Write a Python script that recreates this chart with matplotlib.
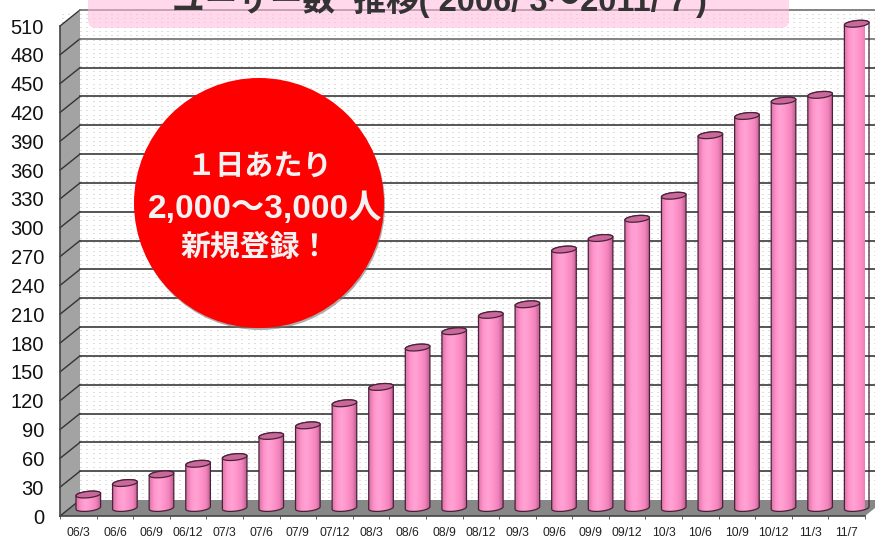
import numpy as np
import matplotlib
matplotlib.use('Agg')
import matplotlib.pyplot as plt
from matplotlib.patches import Polygon, Circle, FancyBboxPatch, PathPatch
from matplotlib.path import Path

plt.rcParams['font.family'] = ['Liberation Sans', 'Noto Sans CJK JP', 'DejaVu Sans']

months = ['06/3', '06/6', '06/9', '06/12', '07/3', '07/6', '07/9', '07/12',
          '08/3', '08/6', '08/9', '08/12', '09/3', '09/6', '09/9', '09/12',
          '10/3', '10/6', '10/9', '10/12', '11/3', '11/7']
users = [14, 26, 35, 46, 53, 75, 86, 109, 126, 167, 184,
         201, 212, 269, 281, 301, 325, 388, 408, 424, 430, 504]
y_ticks = list(range(0, 511, 30))
title_text = 'ユーザー数  推移( 2006/ 3〜2011/ 7 )'
badge_lines = ['１日あたり', '2,000〜3,000人', '新規登録！']

W, H = 875, 539
fig = plt.figure(figsize=(W / 100, H / 100), dpi=100, facecolor='white')

# Pixel axes behind the chart, for the walls and the dot texture
under = fig.add_axes([0, 0, 1, 1], zorder=0)
under.set_xlim(0, W)
under.set_ylim(H, 0)
under.axis('off')
under.add_patch(Polygon([(60, 26), (80, 11), (80, 500), (60, 516)], fc='#a3a3a3', ec='none'))

dots = np.zeros((H, W, 4))
dots[..., :3] = 0.6
for row in np.arange(14, 500, 4.4):
    for col in np.arange(62, W, 6.2):
        dots[int(row), int(col):int(col) + 2, 3] = 0.32
under.imshow(dots, extent=(0, W, H, 0), aspect='auto', interpolation='bilinear')
under.set_xlim(0, W)
under.set_ylim(H, 0)

# Main axes is the front plane of the 3D box
ax = fig.add_axes([60 / W, (H - 516) / H, 805 / W, 490 / H], zorder=1)
ax.patch.set_visible(False)
ax.set_xlim(-0.5, 21.5)
ax.set_ylim(0, 510)
px_x = 22 / 805
px_y = 510 / 490
depth_x = 20 * px_x
depth_y = 16 * px_y

# Floor
ax.add_patch(Polygon([(-0.5, 0), (21.5, 0), (21.5 + depth_x, depth_y), (-0.5 + depth_x, depth_y)],
                     fc='#878787', ec='none', clip_on=False, zorder=1))

# Grid lines on the back wall and the side wall
for v in y_ticks:
    ax.plot([-0.5, -0.5 + depth_x], [v, v + depth_y], color='#333333', lw=1, clip_on=False, zorder=2)
    if v > 0:
        grid_color = '#6e6e6e' if v >= 480 else '#3a3a3a'
        ax.plot([-0.5 + depth_x, 21.5 + depth_x], [v + depth_y, v + depth_y],
                color=grid_color, lw=1.2, clip_on=False, zorder=2)


def ellipse_pts(cx, cy, t):
    # slightly tilted ellipse, sizes in pixels
    x = cx + 12.3 * px_x * np.cos(t)
    y = cy + (3.2 * np.sin(t) + 1.2 * np.cos(t)) * px_y
    return np.column_stack([x, y])


shade = np.array([[0.85, 0.45, 0.66], [1.0, 0.58, 0.79], [1.0, 0.64, 0.83],
                  [1.0, 0.58, 0.79], [0.95, 0.52, 0.74], [0.74, 0.36, 0.56]])
gradient = np.array([np.interp(np.linspace(0, 1, 60), np.linspace(0, 1, 6), shade[:, c])
                     for c in range(3)]).T[np.newaxis, ...]

# Cylinders
for i, v in enumerate(users):
    cx = i + depth_x / 2
    cy_base = depth_y / 2
    cy_top = v + depth_y / 2
    bottom = ellipse_pts(cx, cy_base, np.linspace(np.pi, 2 * np.pi, 30))
    top = ellipse_pts(cx, cy_top, np.linspace(0, np.pi, 30))
    body = np.vstack([bottom, top, bottom[:1]])
    outline = PathPatch(Path(body), fc='none', ec='#4a2238', lw=0.9, clip_on=False, zorder=5)
    ax.add_patch(outline)
    img = ax.imshow(gradient, extent=(cx - 12.3 * px_x, cx + 12.3 * px_x, cy_base - 5 * px_y, cy_top + 5 * px_y),
                    aspect='auto', zorder=4, interpolation='bilinear')
    clip = PathPatch(Path(body), transform=ax.transData)
    img.set_clip_path(clip)
    lid = ellipse_pts(cx, cy_top, np.linspace(0, 2 * np.pi, 60))
    ax.add_patch(Polygon(lid, fc='#c9689a', ec='#4a2238', lw=0.9, clip_on=False, zorder=6))

ax.set_xlim(-0.5, 21.5)
ax.set_ylim(0, 510)

for side in ['top', 'right']:
    ax.spines[side].set_visible(False)
for side in ['left', 'bottom']:
    ax.spines[side].set_color('#444444')
    ax.spines[side].set_linewidth(1.2)
    ax.spines[side].set_zorder(7)
ax.set_yticks(y_ticks)
ax.tick_params(axis='y', length=0, pad=11.5, labelsize=14.5, labelcolor='#111111')
ax.set_xticks(range(len(months)))
ax.set_xticklabels(months)
ax.set_xticks(np.arange(-0.5, 22), minor=True)
ax.tick_params(axis='x', which='major', length=0, pad=8, labelsize=8.8, labelcolor='#222222')
ax.tick_params(axis='x', which='minor', length=2.5, color='#444444', direction='out')

# Pixel axes on top, for the banner and the red badge
over = fig.add_axes([0, 0, 1, 1], zorder=2)
over.patch.set_visible(False)
over.set_xlim(0, W)
over.set_ylim(H, 0)
over.axis('off')
over.add_patch(FancyBboxPatch((94, -30), 689, 52, boxstyle='round,pad=6,rounding_size=8',
                              fc='#ffb8dc', ec='none', alpha=0.55))
over.text(172, 10.5, title_text, fontsize=23.5, fontweight='bold', color='#333333', va='baseline', ha='left')

over.add_patch(Circle((260, 205), 125, fc='#777777', ec='none', alpha=0.6))
over.add_patch(Circle((259, 203), 125, fc='#ff0000', ec='none'))
over.text(259, 168, badge_lines[0], fontsize=21, fontweight='bold', color='#f2f2f2', ha='center', va='center')
over.text(265, 209, badge_lines[1], fontsize=24, fontweight='bold', color='#f2f2f2', ha='center', va='center')
over.text(255, 248, badge_lines[2], fontsize=21.5, fontweight='bold', color='#f2f2f2', ha='center', va='center')

fig.savefig('out.png', dpi=100)
